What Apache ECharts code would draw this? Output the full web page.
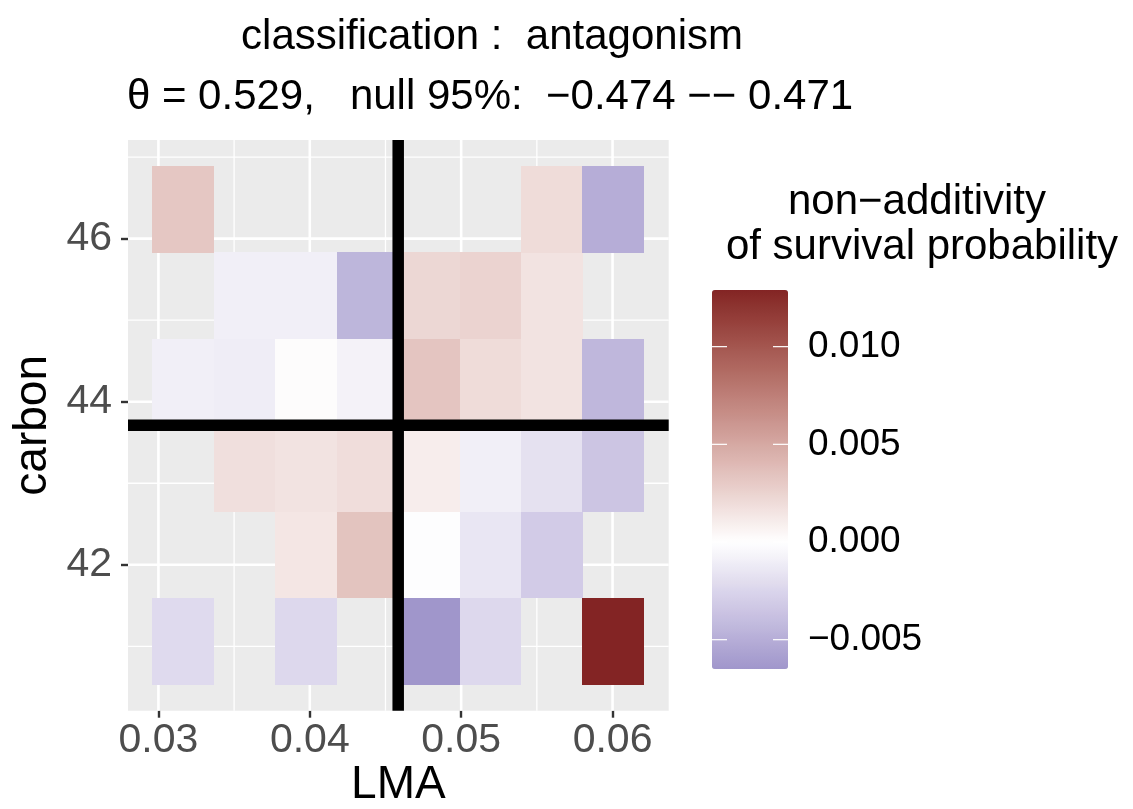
<!DOCTYPE html>
<html>
<head>
<meta charset="utf-8">
<script src="https://cdn.jsdelivr.net/npm/echarts@6/dist/echarts.min.js"></script>
<style>
html,body{margin:0;padding:0;background:#fff;}
#chart{width:1133px;height:809px;}
</style>
</head>
<body>
<div id="chart"></div>
<script>
// ---- data ----
const lmaCenters = [0.03164, 0.03570, 0.03976, 0.04381, 0.04787, 0.05193, 0.05599, 0.06005];
const carbonCenters = [41.06, 42.12, 43.18, 44.24, 45.30, 46.36];
// non-additivity per carbon row (null = no tile), columns follow lmaCenters
const row41 = [-0.0022, null, -0.0023, null, -0.0065, -0.0023, null, 0.0129];
const row42 = [null, null, 0.0014, 0.0034, 0.0000, -0.0015, -0.0031, null];
const row43 = [null, 0.0018, 0.0016, 0.0019, 0.0010, -0.0010, -0.0018, -0.0035];
const row44 = [-0.0010, -0.0011, 0.0002, -0.0008, 0.0033, 0.0020, 0.0016, -0.0044];
const row45 = [null, -0.0010, -0.0010, -0.0045, 0.0023, 0.0025, 0.0016, null];
const row46 = [0.0032, null, null, null, null, null, 0.0020, -0.0050];
const rows = [row41, row42, row43, row44, row45, row46];
const lmaCut = 0.04584;
const carbonCut = 43.71;
const xTicks = [0.03, 0.04, 0.05, 0.06];
const xMinor = [0.035, 0.045, 0.055];
const yTicks = [42, 44, 46];
const yMinor = [41, 43, 45, 47];
const legendTicks = [-0.005, 0, 0.005, 0.010];
const titleLine1 = 'classification :  antagonism';
const titleLine2 = 'θ = 0.529,   null 95%:  −0.474 −− 0.471';
const legendTitle1 = 'non−additivity';
const legendTitle2 = 'of survival probability';

// ---- style constants ----
const TILE_W = 0.00407, TILE_H = 1.064;
const X_MIN = 0.02799, X_MAX = 0.06371, Y_MIN = 40.21, Y_MAX = 47.21;
const V_MIN = -0.0065, V_MAX = 0.0129;
const FONT = 'Liberation Sans';

// tiles
const tiles = [];
rows.forEach((r, i) => r.forEach((v, j) => { if (v !== null) tiles.push([lmaCenters[j], carbonCenters[i], v]); }));

// gradient2 (Lab interpolation) colour stops, like ggplot's scale_fill_gradient2
function lin(c){c/=255;return c<=0.04045?c/12.92:Math.pow((c+0.055)/1.055,2.4);}
function unlin(c){c=c<=0.0031308?12.92*c:1.055*Math.pow(c,1/2.4)-0.055;return Math.max(0,Math.min(255,Math.round(c*255)));}
function hexToLab(h){
  const r=lin(parseInt(h.substr(1,2),16)),g=lin(parseInt(h.substr(3,2),16)),b=lin(parseInt(h.substr(5,2),16));
  const X=(0.4124564*r+0.3575761*g+0.1804375*b)/0.95047,Y=0.2126729*r+0.7151522*g+0.0721750*b,Z=(0.0193339*r+0.1191920*g+0.9503041*b)/1.08883;
  const f=t=>t>0.008856?Math.cbrt(t):7.787*t+16/116;
  const fx=f(X),fy=f(Y),fz=f(Z);
  return [116*fy-16,500*(fx-fy),200*(fy-fz)];
}
function labToHex(L,a,bb){
  const fy=(L+16)/116,fx=fy+a/500,fz=fy-bb/200;
  const fi=t=>t*t*t>0.008856?t*t*t:(t-16/116)/7.787;
  const X=fi(fx)*0.95047,Y=fi(fy),Z=fi(fz)*1.08883;
  const r=3.2404542*X-1.5371385*Y-0.4985314*Z,g=-0.9692660*X+1.8760108*Y+0.0415560*Z,b=0.0556434*X-0.2040259*Y+1.0572252*Z;
  return '#'+[r,g,b].map(c=>unlin(c).toString(16).padStart(2,'0')).join('');
}
const LOW=hexToLab('#3A3A98'),MID=hexToLab('#FFFFFF'),HIGH=hexToLab('#832424');
const maxAbs=Math.max(Math.abs(V_MIN),Math.abs(V_MAX));
function colourOf(v){
  const t=Math.min(1,Math.abs(v)/maxAbs),end=v<0?LOW:HIGH;
  return labToHex(MID[0]+(end[0]-MID[0])*t,MID[1]+(end[1]-MID[1])*t,MID[2]+(end[2]-MID[2])*t);
}
const stops=[];const NS=80;
for(let i=0;i<NS;i++){stops.push(colourOf(V_MIN+(V_MAX-V_MIN)*i/(NS-1)));}

function vLine(api,cs,v,w,color){
  const x=api.coord([v,Y_MIN])[0];
  return {type:'line',shape:{x1:x,y1:cs.y,x2:x,y2:cs.y+cs.height},style:{stroke:color,lineWidth:w}};
}
function hLine(api,cs,v,w,color){
  const y=api.coord([X_MIN,v])[1];
  return {type:'line',shape:{x1:cs.x,y1:y,x2:cs.x+cs.width,y2:y},style:{stroke:color,lineWidth:w}};
}

const chart = echarts.init(document.getElementById('chart'), null, {renderer:'canvas'});

const option = {
  animation:false,
  textStyle:{fontFamily:FONT},
  grid:[
    {left:128,top:140,width:540.7,height:570.7,show:true,backgroundColor:'#ebebeb',borderWidth:0,containLabel:false,outerBoundsMode:'none'},
    {left:712,top:290,width:76,height:379,show:false,containLabel:false,outerBoundsMode:'none'}
  ],
  xAxis:[
    {type:'value',gridIndex:0,min:X_MIN,max:X_MAX,name:'LMA',nameLocation:'middle',nameGap:52,nameMoveOverlap:false,
     nameTextStyle:{fontSize:46,color:'#000',fontFamily:FONT},
     axisLine:{show:false},
     axisTick:{show:true,length:7,customValues:xTicks,lineStyle:{color:'#333333',width:2.4}},
     axisLabel:{customValues:xTicks,formatter:v=>v.toFixed(2),fontSize:41,color:'#4d4d4d',margin:9,fontFamily:FONT},
     splitLine:{show:false},minorSplitLine:{show:false}},
    {type:'value',gridIndex:1,min:0,max:1,show:false}
  ],
  yAxis:[
    {type:'value',gridIndex:0,min:Y_MIN,max:Y_MAX,name:'carbon',nameLocation:'middle',nameGap:72,nameMoveOverlap:false,
     nameTextStyle:{fontSize:46,color:'#000',fontFamily:FONT},
     axisLine:{show:false},
     axisTick:{show:true,length:7,customValues:yTicks,lineStyle:{color:'#333333',width:2.4}},
     axisLabel:{customValues:yTicks,formatter:v=>String(Math.round(v)),fontSize:41,color:'#4d4d4d',margin:16,fontFamily:FONT},
     splitLine:{show:false}},
    {type:'value',gridIndex:1,min:V_MIN,max:V_MAX,position:'right',z:10,
     axisLine:{show:false},
     axisTick:{show:false},
     axisLabel:{customValues:legendTicks,formatter:v=>(v<0?'−':'')+Math.abs(v).toFixed(3),fontSize:37,color:'#000',margin:20,fontFamily:FONT},
     splitLine:{show:false}}
  ],
  visualMap:{
    type:'continuous',seriesIndex:1,dimension:2,min:V_MIN,max:V_MAX,
    left:712,top:290,itemWidth:76,itemHeight:379,padding:0,calculable:false,hoverLink:false,
    text:null,showLabel:false,inRange:{color:stops},z:4
  },
  graphic:[
    {type:'text',x:492,y:37,z:100,style:{text:titleLine1,fill:'#000',font:'42px "'+FONT+'"',align:'center',verticalAlign:'middle',textAlign:'center',textVerticalAlign:'middle'}},
    {type:'text',x:490,y:97,z:100,style:{text:titleLine2,fill:'#000',font:'42px "'+FONT+'"',align:'center',verticalAlign:'middle',textAlign:'center',textVerticalAlign:'middle'}},
    {type:'text',x:917,y:202,z:100,style:{text:legendTitle1,fill:'#000',font:'42px "'+FONT+'"',align:'center',verticalAlign:'middle',textAlign:'center',textVerticalAlign:'middle'}},
    {type:'text',x:922,y:247,z:100,style:{text:legendTitle2,fill:'#000',font:'42px "'+FONT+'"',align:'center',verticalAlign:'middle',textAlign:'center',textVerticalAlign:'middle'}}
  ],
  series:[
    // panel grid lines
    {type:'custom',xAxisIndex:0,yAxisIndex:0,z:1,silent:true,data:[[0]],
     renderItem:function(params,api){
       const cs=params.coordSys,ch=[];
       xMinor.forEach(v=>ch.push(vLine(api,cs,v,1.3,'#ffffff')));
       yMinor.forEach(v=>ch.push(hLine(api,cs,v,1.3,'#ffffff')));
       xTicks.forEach(v=>ch.push(vLine(api,cs,v,2.6,'#ffffff')));
       yTicks.forEach(v=>ch.push(hLine(api,cs,v,2.6,'#ffffff')));
       return {type:'group',children:ch};
     }},
    // tiles
    {type:'custom',xAxisIndex:0,yAxisIndex:0,z:2,silent:true,data:tiles,encode:{x:0,y:1},
     renderItem:function(params,api){
       const c=api.coord([api.value(0),api.value(1)]);
       const s=api.size([TILE_W,TILE_H]);
       const x0=Math.round(c[0]-s[0]/2),x1=Math.round(c[0]+s[0]/2);
       const y0=Math.round(c[1]-s[1]/2),y1=Math.round(c[1]+s[1]/2);
       return {type:'rect',shape:{x:x0,y:y0,width:x1-x0,height:y1-y0},style:{fill:api.visual('color')}};
     }},
    // threshold lines
    {type:'custom',xAxisIndex:0,yAxisIndex:0,z:5,silent:true,data:[[0]],
     renderItem:function(params,api){
       const cs=params.coordSys;
       return {type:'group',children:[vLine(api,cs,lmaCut,11.5,'#000000'),hLine(api,cs,carbonCut,11.5,'#000000')]};
     }},
    // colourbar tick marks
    {type:'custom',xAxisIndex:1,yAxisIndex:1,z:10,silent:true,data:[[0]],
     renderItem:function(params,api){
       const cs=params.coordSys,ch=[];
       legendTicks.forEach(v=>{
         const y=api.coord([0,v])[1];
         ch.push({type:'line',shape:{x1:cs.x,y1:y,x2:cs.x+15,y2:y},style:{stroke:'#ffffff',lineWidth:1.2}});
         ch.push({type:'line',shape:{x1:cs.x+cs.width-15,y1:y,x2:cs.x+cs.width,y2:y},style:{stroke:'#ffffff',lineWidth:1.2}});
       });
       return {type:'group',children:ch};
     }}
  ]
};
chart.setOption(option);
</script>
</body>
</html>
